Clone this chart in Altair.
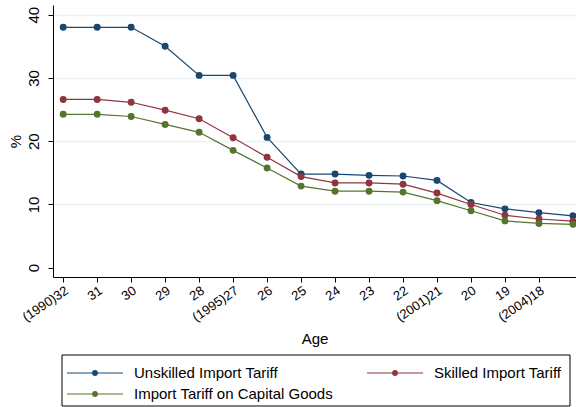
import altair as alt
import pandas as pd

# Age of cohort (descending) and tariff levels in percent
ages = [32, 31, 30, 29, 28, 27, 26, 25, 24, 23, 22, 21, 20, 19, 18, 17]
unskilled = [38.0, 38.0, 38.0, 35.0, 30.4, 30.4, 20.6, 14.8, 14.8, 14.6, 14.5, 13.8, 10.3, 9.3, 8.7, 8.2]
skilled = [26.6, 26.6, 26.15, 24.9, 23.55, 20.55, 17.45, 14.4, 13.4, 13.4, 13.2, 11.8, 10.0, 8.3, 7.7, 7.35]
capital = [24.25, 24.25, 23.9, 22.65, 21.4, 18.55, 15.75, 12.9, 12.1, 12.1, 11.95, 10.6, 9.0, 7.4, 7.0, 6.85]

series_names = ["Unskilled Import Tariff", "Skilled Import Tariff", "Import Tariff on Capital Goods"]
series_colors = ["#1a476f", "#90353b", "#55752f"]

tick_ages = [32, 31, 30, 29, 28, 27, 26, 25, 24, 23, 22, 21, 20, 19, 18]
tick_labels = ["(1990)32", "31", "30", "29", "28", "(1995)27", "26", "25", "24", "23",
               "22", "(2001)21", "20", "19", "(2004)18"]
y_ticks = [0, 10, 20, 30, 40]

rows = []
for name, vals in zip(series_names, [unskilled, skilled, capital]):
    for a, v in zip(ages, vals):
        rows.append({"age": a, "value": v, "series": name})
df = pd.DataFrame(rows)

label_expr = " : ".join(
    f"datum.value == {a} ? '{t}'" for a, t in zip(tick_ages, tick_labels)
) + " : ''"

FONT = "Liberation Sans"
X_DOMAIN = [32.3, 16.91]
Y_DOMAIN = [-1.47, 41.53]

color_scale = alt.Scale(domain=series_names, range=series_colors)

x = alt.X(
    "age:Q",
    scale=alt.Scale(domain=X_DOMAIN, nice=False, zero=False),
    axis=alt.Axis(
        values=tick_ages, labelExpr=label_expr, title="Age",
        labelAngle=-34, labelAlign="right", labelBaseline="top",
        labelFontSize=13, titleFontSize=15, labelPadding=2, titlePadding=8,
        tickSize=5, grid=False, domainColor="#000000", tickColor="#000000",
        labelColor="#000000", titleColor="#000000", labelFont=FONT, titleFont=FONT,
        titleFontWeight="normal", labelOverlap=False, labelFlush=False,
    ),
)
y = alt.Y(
    "value:Q",
    scale=alt.Scale(domain=Y_DOMAIN, nice=False, zero=False),
    axis=alt.Axis(
        values=y_ticks, title="%", labelAngle=270,
        labelAlign="center", labelBaseline="bottom", labelPadding=7,
        labelFontSize=15, titleFontSize=15, titlePadding=3, tickSize=5,
        grid=True, gridColor={"expr": "datum.value == 0 ? '#ffffff' : '#eaf2f3'"},
        gridWidth=1.5, domainColor="#000000", tickColor="#000000",
        labelColor="#000000", titleColor="#000000", labelFont=FONT, titleFont=FONT,
        titleFontWeight="normal", labelFlush=False,
    ),
)
color = alt.Color("series:N", scale=color_scale, legend=None)

base = alt.Chart(df).encode(x=x, y=y, color=color, order=alt.Order("age:Q", sort="descending"))
lines = base.mark_line(strokeWidth=1.2)
points = base.mark_point(filled=True, size=48, opacity=1, shape="circle")

# Boxed key below the plot: two entries on the first row, one on the second
key_left = [14, 314, 14]
key_row = [368, 368, 389]
one = pd.DataFrame({"k": [0]})
key_layers = [
    alt.Chart(one).mark_rect(fill=None, stroke="#000000", strokeWidth=1).encode(
        x=alt.value(9), x2=alt.value(517), y=alt.value(350), y2=alt.value(401)
    )
]
for name, col, x0, yr in zip(series_names, series_colors, key_left, key_row):
    key_layers.append(
        alt.Chart(one).mark_rule(color=col, strokeWidth=1.2).encode(
            x=alt.value(x0), x2=alt.value(x0 + 56), y=alt.value(yr)
        )
    )
    key_layers.append(
        alt.Chart(one).mark_point(filled=True, size=34, opacity=1, shape="circle", color=col).encode(
            x=alt.value(x0 + 28), y=alt.value(yr)
        )
    )
    key_layers.append(
        alt.Chart(one).mark_text(
            align="left", baseline="middle", fontSize=15, font=FONT, color="#000000", text=name
        ).encode(x=alt.value(x0 + 67), y=alt.value(yr))
    )

chart = (
    alt.layer(lines, points, *key_layers)
    .properties(
        width=523, height=272,
        autosize=alt.AutoSizeParams(type="none"),
        padding={"left": 53, "top": 5, "right": 0, "bottom": 130},
        background="#ffffff",
    )
    .configure_view(stroke=None)
)

chart.save("out.html", embed_options={"renderer": "svg", "actions": False})
